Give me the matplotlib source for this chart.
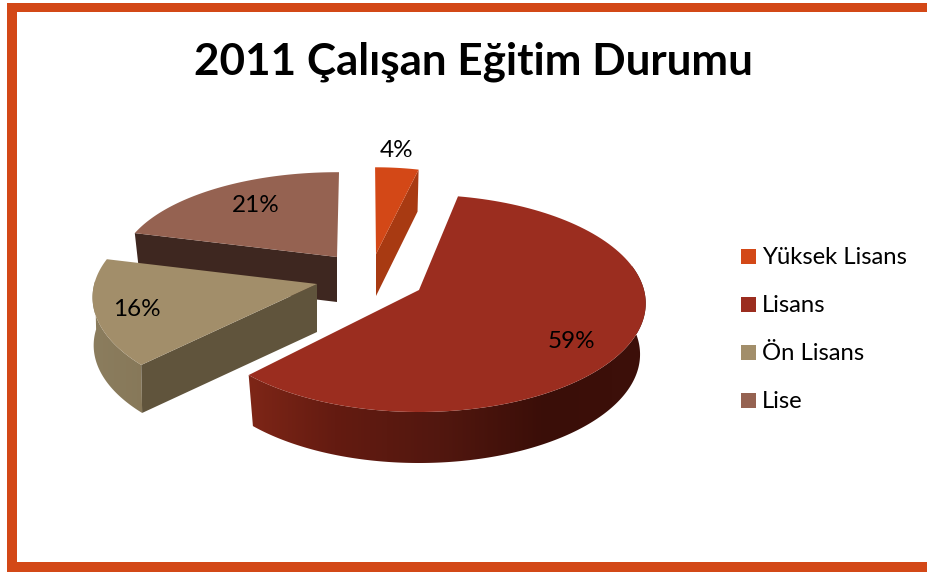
import numpy as np
import matplotlib
matplotlib.use("Agg")
import matplotlib.pyplot as plt
from matplotlib.patches import Polygon, Rectangle
from matplotlib.colors import LinearSegmentedColormap

title = "2011 Çalışan Eğitim Durumu"
categories = ["Yüksek Lisans", "Lisans", "Ön Lisans", "Lise"]
values = [4, 59, 16, 21]
labels = ["4%", "59%", "16%", "21%"]

top_colors = ["#D34817", "#9B2D1F", "#A28E6A", "#956251"]
wall_colors = ["#A83A12", "#7A2416", "#60543C", "#3E2720"]
apex = [(376, 254), (419, 290), (317, 284), (337, 257)]
scale_x = [0.87, 1.0, 0.99, 0.96]
scale_y = [0.91, 1.0, 1.0, 0.89]
rotation = [-0.3, -3.2, -0.6, 0.6]
depth = [42, 51, 48, 45]
shrink = [0.975, 0.975, 0.995, 0.975]
label_pos = [(397, 157), (571, 348), (137, 316), (256, 212)]
legend_y = [264, 312, 360, 408]
FONT = "Lato"

RX, RY, K = 225.0, 107.0, 0.123


def project(i, a_deg, lower=False):
    t = np.radians(np.atleast_1d(a_deg) + rotation[i])
    u, v = np.sin(t), np.cos(t)
    w = 1 + K * v
    x = RX * scale_x[i] * u / w
    y = -RY * scale_y[i] * v / w
    if lower:
        x = x * shrink[i]
        y = y + depth[i]
    return np.column_stack([apex[i][0] + x, apex[i][1] + y])


fig = plt.figure(figsize=(9.27, 5.72), dpi=100)
ax = fig.add_axes([0, 0, 1, 1])

frame = "#D34817"
ax.add_patch(Rectangle((7.5, 3), 920, 9, color=frame, lw=0))
ax.add_patch(Rectangle((7.5, 562), 920, 10, color=frame, lw=0))
ax.add_patch(Rectangle((7.5, 3), 10, 569, color=frame, lw=0))

total = sum(values)
edges = np.concatenate([[0], np.cumsum(values)]) * 360.0 / total
spans = [(edges[i], edges[i + 1]) for i in range(len(values))]

lisans_cmap = LinearSegmentedColormap.from_list(
    "l", [(0.0, "#7E2617"), (0.1, "#7E2617"), (0.28, "#641B11"), (0.5, "#52170F"),
          (0.72, "#3A0E08"), (1.0, "#3E100A")])
tan_cmap = LinearSegmentedColormap.from_list("t", ["#8D7F60", "#857657"])

z = [2]


def nextz():
    z[0] += 1
    return z[0]


def outer_wall(i, a0, a1, cmap, x0, x1):
    ang = np.linspace(a0, a1, 200)
    pts = np.vstack([project(i, ang), project(i, ang, lower=True)[::-1]])
    zz = nextz()
    poly = Polygon(pts, closed=True, facecolor="none", edgecolor="none",
                   transform=ax.transData, zorder=zz)
    ax.add_patch(poly)
    grad = np.linspace(0, 1, 256).reshape(1, -1)
    im = ax.imshow(grad, cmap=cmap, extent=(x0, x1, 480, 250), aspect="auto",
                   zorder=zz, interpolation="bilinear")
    im.set_clip_path(poly)


def top_face(i):
    a0, a1 = spans[i]
    ang = np.linspace(a0, a1, 120)
    pts = np.vstack([[apex[i]], project(i, ang)])
    ax.add_patch(Polygon(pts, closed=True, facecolor=top_colors[i], edgecolor="none",
                         zorder=nextz()))


def cut_wall(i, a):
    p = project(i, a)[0]
    q = project(i, a, lower=True)[0]
    ap = np.array(apex[i], float)
    ab = ap + [0, depth[i]]
    ax.add_patch(Polygon([ap, p, q, ab], closed=True, facecolor=wall_colors[i],
                         edgecolor="none", zorder=nextz()))


# back to front: Yüksek Lisans, Lise, Ön Lisans, Lisans
cut_wall(0, spans[0][1])
top_face(0)
cut_wall(3, spans[3][0])
top_face(3)
outer_wall(2, spans[2][0], 272, tan_cmap, 70, 170)
cut_wall(2, spans[2][0])
top_face(2)
outer_wall(1, 80, spans[1][1], lisans_cmap, 200, 680)
top_face(1)

for (x, y), s in zip(label_pos, labels):
    ax.text(x, y, s, ha="center", va="baseline", fontsize=17.5, family=FONT,
            color="black", zorder=50)

for name, col, y in zip(categories, top_colors, legend_y):
    ax.add_patch(Rectangle((741, y - 15), 15, 15, color=col, lw=0, zorder=50))
    ax.text(762, y, name, ha="left", va="baseline", fontsize=17.2, family=FONT,
            color="black", zorder=50)

ax.text(473, 75, title, ha="center", va="baseline", fontsize=31.7, fontweight="bold",
        family=FONT, color="black", zorder=50)

ax.set_xlim(0, 927)
ax.set_ylim(572, 0)
ax.axis("off")

fig.savefig("out.png", dpi=100)
